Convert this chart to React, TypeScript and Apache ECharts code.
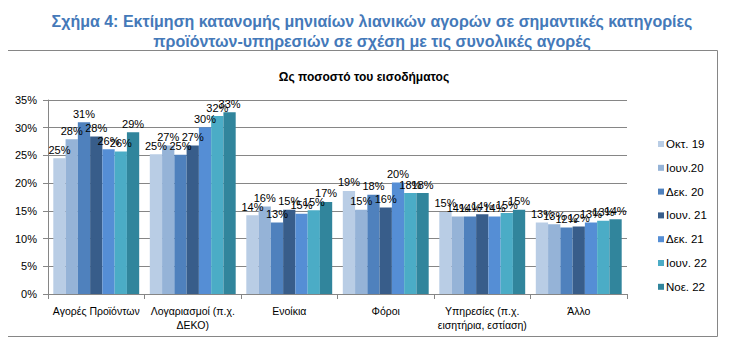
import React, { useEffect, useRef } from "react";
import * as echarts from "echarts";

const categories = [
  "Αγορές Προϊόντων",
  "Λογαριασμοί (π.χ.\nΔΕΚΟ)",
  "Ενοίκια",
  "Φόροι",
  "Υπηρεσίες (π.χ.\nεισητήρια, εστίαση)",
  "Άλλο",
];
const seriesNames = ["Οκτ. 19", "Ιουν.20", "Δεκ. 20", "Ιουν. 21", "Δεκ. 21", "Ιουν. 22", "Νοε. 22"];
const oct19 = [24.5, 25.2, 14.2, 18.6, 14.8, 12.9];
const jun20 = [27.9, 26.8, 15.8, 15.2, 14.0, 12.6];
const dec20 = [31.0, 25.1, 12.9, 17.9, 14.0, 12.0];
const jun21 = [28.4, 26.8, 15.2, 15.6, 14.4, 12.2];
const dec21 = [26.1, 30.1, 14.5, 20.1, 14.0, 12.9];
const jun22 = [25.7, 32.1, 15.1, 18.2, 14.6, 13.2];
const nov22 = [29.2, 32.8, 16.6, 18.2, 15.2, 13.5];
const seriesValues = [oct19, jun20, dec20, jun21, dec21, jun22, nov22];
const colors = ["#B9CDE5", "#95B3D7", "#4F81BD", "#385D8A", "#558ED5", "#4BACC6", "#31859C"];
const yTicks = [0, 5, 10, 15, 20, 25, 30, 35];

const FONT = "'Liberation Sans', Arial, sans-serif";

export default function App() {
  const ref = useRef<HTMLDivElement>(null);
  useEffect(() => {
    if (!ref.current) return;
    const chart = echarts.init(ref.current, undefined, { renderer: "svg" });
    chart.setOption({
      animation: false,
      backgroundColor: "#ffffff",
      textStyle: { fontFamily: FONT },
      title: [
        {
          text: "Σχήμα 4: Εκτίμηση κατανομής μηνιαίων λιανικών αγορών σε σημαντικές κατηγορίες\nπροϊόντων-υπηρεσιών σε σχέση με τις συνολικές αγορές",
          left: 367,
          textAlign: "center",
          top: 6,
          textStyle: {
            fontFamily: FONT,
            fontSize: 16,
            fontWeight: "bold",
            color: "#4479B9",
            lineHeight: 20,
          },
        },
        {
          text: "Ως ποσοστό του εισοδήματος",
          left: 359,
          textAlign: "center",
          top: 66,
          textStyle: { fontFamily: FONT, fontSize: 12, fontWeight: "bold", color: "#000" },
        },
      ],
      graphic: [
        {
          type: "rect",
          shape: { x: 6.5, y: 50.5, width: 711, height: 286 },
          style: { fill: "none", stroke: "#868686", lineWidth: 1 },
          silent: true,
        },
      ],
      legend: {
        orient: "vertical",
        left: 653,
        top: 133,
        itemWidth: 6,
        itemHeight: 6,
        itemGap: 11.8,
        icon: "rect",
        textStyle: { fontFamily: FONT, fontSize: 11.5, color: "#000", padding: [0, 0, 0, -3] },
        data: seriesNames,
      },
      grid: { left: 48, right: 106, top: 100, bottom: 63, containLabel: false },
      xAxis: {
        type: "category",
        data: categories,
        axisLine: { show: true, lineStyle: { color: "#868686" } },
        axisTick: { show: true, alignWithLabel: false, length: 5, lineStyle: { color: "#868686" } },
        axisLabel: { fontFamily: FONT, fontSize: 10.5, color: "#000", margin: 10, lineHeight: 14, interval: 0 },
      },
      yAxis: {
        type: "value",
        min: 0,
        max: 35,
        interval: 5,
        axisLine: { show: true, lineStyle: { color: "#868686" } },
        axisTick: { show: true, length: 5, lineStyle: { color: "#868686" } },
        splitLine: { show: true, lineStyle: { color: "#868686", width: 1 } },
        axisLabel: {
          fontFamily: FONT,
          fontSize: 11,
          color: "#000",
          margin: 11,
          formatter: (v: number) => (yTicks.includes(v) ? v + "%" : ""),
        },
      },
      series: seriesNames.map((name, i) => ({
        name,
        type: "bar",
        data: seriesValues[i],
        barGap: "0%",
        barCategoryGap: "11%",
        itemStyle: { color: colors[i] },
        label: {
          show: true,
          position: "top",
          distance: 3,
          fontFamily: FONT,
          fontSize: 11,
          color: "#000",
          formatter: (p: any) => Math.round(p.value) + "%",
        },
      })),
    });
    return () => chart.dispose();
  }, []);
  return <div ref={ref} style={{ width: 733, height: 357, margin: -8 }} />;
}
